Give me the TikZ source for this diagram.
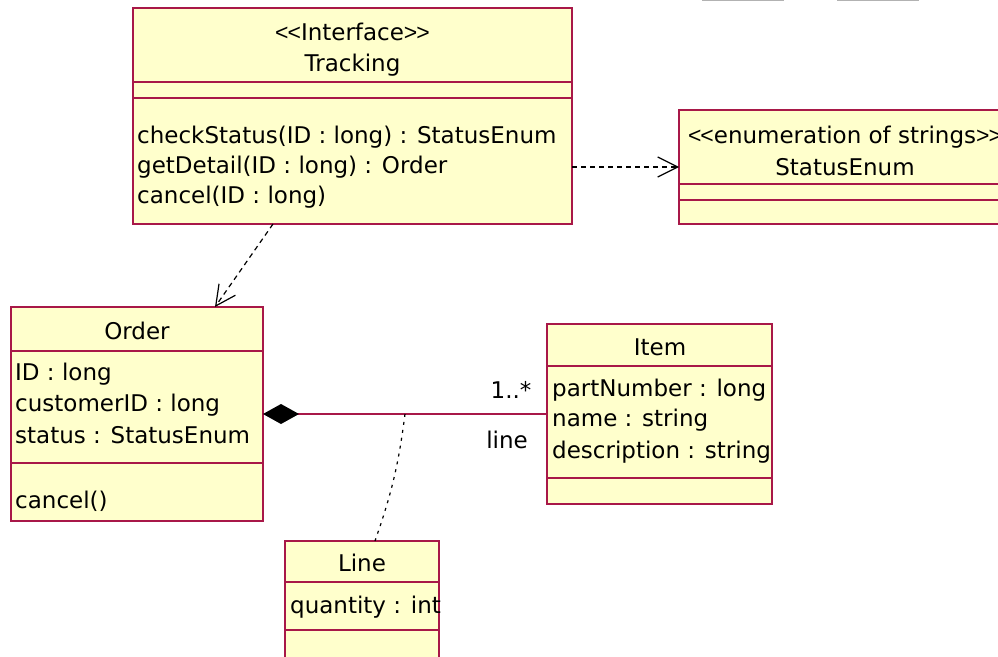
\documentclass[tikz,border=0pt]{standalone}
\usepackage{fontspec}
\setmainfont{DejaVu Sans}
\newfontfamily\bracketfont{Liberation Sans}
\usetikzlibrary{arrows.meta, positioning}
\definecolor{roseborder}{RGB}{168,24,72}
\definecolor{rosefill}{RGB}{255,255,204}
\newcommand{\stereotype}[1]{{\bracketfont<\kern-1pt<}#1{\bracketfont>\kern-1pt>}}

\begin{document}
\begin{tikzpicture}[
            x = 1pt, y = -1pt, % pixel grid, y grows downwards
            dep/.style = {black, line width=1.2pt, dash pattern=on 5pt off 4pt,
                          -{Straight Barb[length=20pt, width=20pt]}}, % dependency
            assocline/.style = {black, line width=1.2pt, dash pattern=on 3pt off 5pt}
        ]

        \tikzstyle{umlclass}=[
            draw = roseborder,
            fill = rosefill,
            line width = 1.6pt,
            inner sep = 0pt,
            outer sep = 0pt
        ]
        \tikzstyle{compartment}=[roseborder, line width=1.6pt]
        \tikzstyle{txt}=[inner sep=0pt, text height=17pt, text depth=0pt,
                         font=\fontsize{23}{28}\selectfont]

        \useasboundingbox (0,0) rectangle (998,656);
        \clip (0,0) rectangle (998,656);

        % cut off boxes at the top
        \draw[gray!60, line width=1pt] (702,-10) rectangle (783,0.5);
        \draw[gray!60, line width=1pt] (837,-10) rectangle (918,0.5);

        % Tracking
        \node[umlclass, minimum width=439pt, minimum height=216pt] (tracking) at (352.5,116) {};
        \draw[compartment] (tracking.west |- 0,82) -- (tracking.east |- 0,82);
        \draw[compartment] (tracking.west |- 0,98) -- (tracking.east |- 0,98);
        \node[txt] (trkstereo) at (352.5,32) {\stereotype{Interface}};
        \node[txt] (trkname)   at (352.5,63) {Tracking};
        \node[txt, anchor=west] (trkop1) at (137,135) {checkStatus(ID : long) : StatusEnum};
        \node[txt, anchor=west] (trkop2) at (137,165) {getDetail(ID : long) : Order};
        \node[txt, anchor=west] (trkop3) at (137,195) {cancel(ID : long)};

        % StatusEnum
        \node[umlclass, minimum width=332pt, minimum height=114pt] (statusenum) at (845,167) {};
        \draw[compartment] (statusenum.west |- 0,184) -- (statusenum.east |- 0,184);
        \draw[compartment] (statusenum.west |- 0,200) -- (statusenum.east |- 0,200);
        \node[txt] (enmstereo) at (845,135) {\stereotype{enumeration of strings}};
        \node[txt] (enmname)   at (845,167) {StatusEnum};

        % Order
        \node[umlclass, minimum width=252pt, minimum height=214pt] (order) at (137,414) {};
        \draw[compartment] (order.west |- 0,351) -- (order.east |- 0,351);
        \draw[compartment] (order.west |- 0,463) -- (order.east |- 0,463);
        \node[txt] (ordname) at (137,331) {Order};
        \node[txt, anchor=west] (ordatt1) at (15,372) {ID : long};
        \node[txt, anchor=west] (ordatt2) at (15,403) {customerID : long};
        \node[txt, anchor=west] (ordatt3) at (15,435) {status : StatusEnum};
        \node[txt, anchor=west] (ordop1)  at (15,500) {cancel()};

        % Item
        \node[umlclass, minimum width=225pt, minimum height=180pt] (item) at (659.5,414) {};
        \draw[compartment] (item.west |- 0,366) -- (item.east |- 0,366);
        \draw[compartment] (item.west |- 0,478) -- (item.east |- 0,478);
        \node[txt] (itmname) at (660,347) {Item};
        \node[txt, anchor=west] (itmatt1) at (552,388) {partNumber : long};
        \node[txt, anchor=west] (itmatt2) at (552,418) {name : string};
        \node[txt, anchor=west] (itmatt3) at (552,450) {description : string};

        % Line (association class)
        \node[umlclass, minimum width=154pt, minimum height=139pt] (lineclass) at (362,610.5) {};
        \draw[compartment] (lineclass.west |- 0,582) -- (lineclass.east |- 0,582);
        \draw[compartment] (lineclass.west |- 0,630) -- (lineclass.east |- 0,630);
        \node[txt] (lnname) at (362,563) {Line};
        \node[txt, anchor=west] (lnatt1) at (290,605) {quantity : int};

        % composition Order -- Item
        \draw[roseborder, line width=1.6pt,
              {Diamond[length=36pt, width=20pt, color=black, fill=black]}-]
            (order.east) -- coordinate[pos=0.5] (assoc) (item.west);
        \node[txt] (mult)  at ([shift={(-36,-24)}]item.west) {1..*};
        \node[txt] (role)  at ([shift={(-40,26)}]item.west) {line};
        \draw[assocline] (assoc) to[bend left=6] ([xshift=13pt]lineclass.north);

        % dependencies
        \draw[dep] (tracking.east |- statusenum.west) -- (statusenum.west);
        \draw[dep] ([xshift=-79.5pt]tracking.south) -- ([xshift=78pt]order.north);
    \end{tikzpicture}
\end{document}
